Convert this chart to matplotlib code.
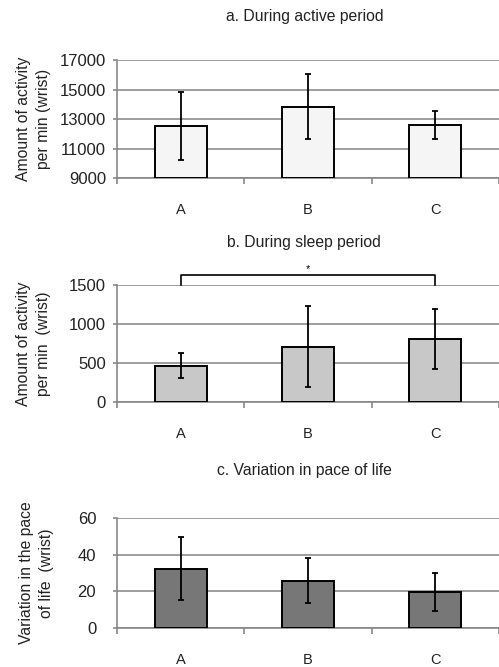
import matplotlib
matplotlib.use("Agg")
import matplotlib.pyplot as plt

plt.rcParams['font.family'] = ['Liberation Sans', 'DejaVu Sans']

groups = ['A', 'B', 'C']

active_mean = [12500, 13850, 12600]
active_err = [2300, 2200, 950]

sleep_mean = [465, 711, 811]
sleep_err = [162, 520, 390]

pace_mean = [32.4, 25.8, 19.6]
pace_err = [17.4, 12.2, 10.3]

panels = [
    ('a. During active period', active_mean, active_err, '#f5f5f5',
     (9000, 17000), [9000, 11000, 13000, 15000, 17000],
     'Amount of activity\nper min (wrist)', [0.2345, 0.733, 0.7655, 0.177], 5),
    ('b. During sleep period', sleep_mean, sleep_err, '#c8c8c8',
     (0, 1500), [0, 500, 1000, 1500],
     'Amount of activity\nper min  (wrist)', [0.2345, 0.398, 0.7655, 0.174], 5),
    ('c. Variation in pace of life', pace_mean, pace_err, '#777777',
     (0, 60), [0, 20, 40, 60],
     'Variation in the pace\nof life  (wrist)', [0.2345, 0.059, 0.7655, 0.164], 12),
]
title_y = [17, 242, 471]
label_x = [51, 51, 54]

fig = plt.figure(figsize=(4.99, 6.67), dpi=100)
axes = []
for (title, mean, err, color, ylim, yticks, ylabel, rect, ypad), ty, lx in zip(panels, title_y, label_x):
    ax = fig.add_axes(rect)
    x = range(len(groups))
    ax.bar(x, [m - ylim[0] for m in mean], bottom=ylim[0], width=0.41,
           color=color, edgecolor='black', linewidth=1.4, zorder=3)
    ax.errorbar(x, mean, yerr=err, fmt='none', ecolor='black',
                elinewidth=1.3, capsize=2.5, capthick=1.3, zorder=4)
    ax.set_xlim(-0.5, 2.5)
    ax.set_ylim(*ylim)
    ax.set_yticks(yticks)
    ax.set_xticks(list(x))
    ax.set_xticklabels(groups)
    ax.set_xticks([-0.5, 0.5, 1.5, 2.5], minor=True)
    ax.tick_params(axis='x', which='major', length=0, pad=18, labelsize=10.5, labelcolor='#222222')
    ax.tick_params(axis='x', which='minor', length=4, color='#888888', width=1.2)
    ax.tick_params(axis='y', length=3, color='#888888', width=1.2, labelsize=12, pad=ypad,
                   labelcolor='#222222')
    ax.grid(axis='y', color='#8c8c8c', linewidth=1.2, zorder=0)
    for s in ['top', 'right']:
        ax.spines[s].set_visible(False)
    ax.spines['left'].set_color('#888888')
    ax.spines['bottom'].set_color('#888888')
    ax.spines['left'].set_linewidth(1.2)
    ax.spines['bottom'].set_linewidth(1.2)
    ax.set_ylabel(ylabel, fontsize=11.3, linespacing=1.45, color='#222222')
    ax.yaxis.set_label_coords((lx - 117) / (rect[2] * 499), 0.5)
    fig.text(0.61, 1 - ty / 667, title, ha='center', va='center', fontsize=11.3, color='#222222')
    axes.append(ax)

# significance bracket A vs C on panel b
axb = axes[1]
axb.plot([0, 0, 2, 2], [1500, 1630, 1630, 1500], color='black',
         linewidth=1.2, clip_on=False, zorder=5)
axb.text(1, 1650, '*', ha='center', va='bottom', fontsize=8)

fig.savefig('out.png', dpi=100)
